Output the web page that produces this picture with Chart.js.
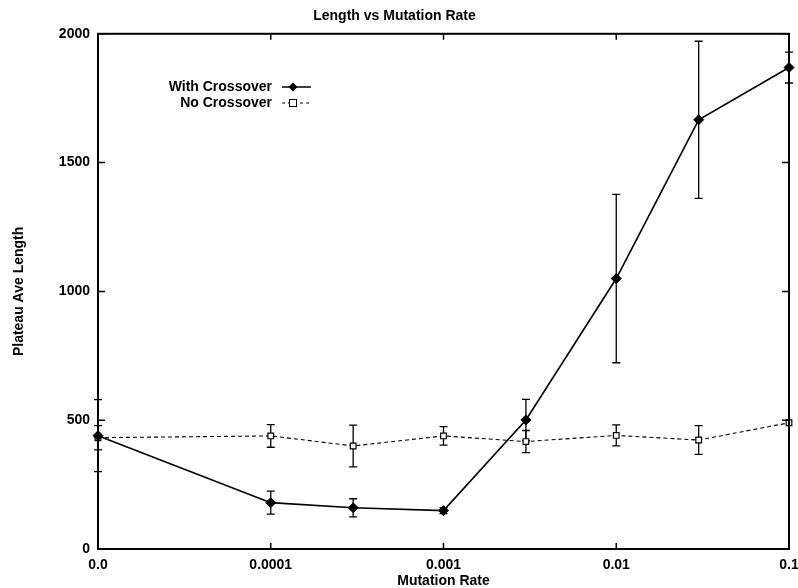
<!DOCTYPE html>
<html>
<head>
<meta charset="utf-8">
<script src="https://cdn.jsdelivr.net/npm/chart.js@4"></script>
<style>
  html, body { margin: 0; padding: 0; background: #fff; }
  #wrap { width: 798px; height: 588px; }
</style>
</head>
<body>
<div id="wrap"><canvas id="chart" width="798" height="588"></canvas></div>
<script>
// mutation rates (0.0 sits at the left end of the log axis)
const rates = [0, 0.0001, 0.0003, 0.001, 0.003, 0.01, 0.03, 0.1];
const withCross = [440, 180, 160, 149, 501, 1050, 1666, 1869];
const withCrossErr = [140, 45, 35, 12, 80, 327, 305, 60];
const noCross = [432, 439, 400, 439, 417, 441, 423, 490];
const noCrossErr = [47, 44, 81, 36, 43, 41, 56, 0];

const xTickRates = [0, 0.0001, 0.001, 0.01, 0.1];
const xTickLabels = ['0.0', '0.0001', '0.001', '0.01', '0.1'];
const yTicks = [0, 500, 1000, 1500, 2000];

const X_MIN = -5, X_MAX = -1;
const toX = r => r > 0 ? Math.log10(r) : X_MIN;

const FONT = 'Liberation Sans, Arial, Helvetica, sans-serif';
const textFont = { family: FONT, size: 14, weight: 'bold' };

const errors = [withCrossErr, noCrossErr];

const errorBars = {
  id: 'errorBars',
  beforeDatasetsDraw(chart) {
    const ctx = chart.ctx;
    const y = chart.scales.y;
    ctx.save();
    ctx.strokeStyle = '#000';
    ctx.lineWidth = 1.3;
    chart.data.datasets.forEach((ds, i) => {
      const meta = chart.getDatasetMeta(i);
      const errs = errors[i];
      meta.data.forEach((pt, j) => {
        const e = errs[j];
        if (!e) return;
        const v = ds.data[j].y;
        const top = y.getPixelForValue(v + e);
        const bot = y.getPixelForValue(v - e);
        ctx.beginPath();
        ctx.moveTo(pt.x, top); ctx.lineTo(pt.x, bot);
        ctx.moveTo(pt.x - 4, top); ctx.lineTo(pt.x + 4, top);
        ctx.moveTo(pt.x - 4, bot); ctx.lineTo(pt.x + 4, bot);
        ctx.stroke();
      });
    });
    ctx.restore();
  }
};

const frame = {
  id: 'frame',
  afterDatasetsDraw(chart) {
    const ctx = chart.ctx;
    const a = chart.chartArea;
    const xs = chart.scales.x, ys = chart.scales.y;
    ctx.save();
    ctx.strokeStyle = '#000';
    ctx.lineWidth = 2;
    ctx.strokeRect(a.left, a.top, a.right - a.left, a.bottom - a.top);
    ctx.lineWidth = 1.5;
    ctx.beginPath();
    xTickRates.forEach(r => {
      const px = xs.getPixelForValue(toX(r));
      ctx.moveTo(px, a.bottom); ctx.lineTo(px, a.bottom - 6);
      ctx.moveTo(px, a.top); ctx.lineTo(px, a.top + 6);
    });
    yTicks.forEach(v => {
      const py = ys.getPixelForValue(v);
      ctx.moveTo(a.left, py); ctx.lineTo(a.left + 7, py);
      ctx.moveTo(a.right, py); ctx.lineTo(a.right - 7, py);
    });
    ctx.stroke();

    // legend
    ctx.font = 'bold 14px ' + FONT;
    ctx.fillStyle = '#000';
    ctx.textAlign = 'right';
    ctx.textBaseline = 'middle';
    const lx = 272, ly = [87, 103];
    ctx.fillText('With Crossover', lx, ly[0]);
    ctx.fillText('No Crossover', lx, ly[1]);
    ctx.lineWidth = 1.5;
    ctx.beginPath();
    ctx.moveTo(282, ly[0]); ctx.lineTo(311, ly[0]);
    ctx.stroke();
    ctx.beginPath();
    ctx.moveTo(293, ly[0] - 4.5); ctx.lineTo(297.5, ly[0]);
    ctx.lineTo(293, ly[0] + 4.5); ctx.lineTo(288.5, ly[0]);
    ctx.closePath(); ctx.fill();
    ctx.lineWidth = 1;
    ctx.setLineDash([3, 3]);
    ctx.beginPath();
    ctx.moveTo(282, ly[1]); ctx.lineTo(311, ly[1]);
    ctx.stroke();
    ctx.setLineDash([]);
    ctx.fillStyle = '#fff';
    ctx.fillRect(289.5, ly[1] - 3.5, 7, 7);
    ctx.strokeRect(289.5, ly[1] - 3.5, 7, 7);
    ctx.restore();
  }
};

new Chart(document.getElementById('chart'), {
  type: 'line',
  data: {
    datasets: [
      {
        label: 'With Crossover',
        data: rates.map((r, i) => ({ x: toX(r), y: withCross[i] })),
        borderColor: '#000',
        backgroundColor: '#000',
        borderWidth: 1.6,
        pointStyle: 'rectRot',
        pointRadius: 5,
        pointBorderWidth: 1,
        clip: false
      },
      {
        label: 'No Crossover',
        data: rates.map((r, i) => ({ x: toX(r), y: noCross[i] })),
        borderColor: '#000',
        backgroundColor: '#fff',
        borderWidth: 1.1,
        borderDash: [4, 3],
        pointStyle: 'rect',
        pointRadius: 4,
        pointBorderWidth: 1.2,
        clip: false
      }
    ]
  },
  options: {
    responsive: false,
    animation: false,
    layout: { padding: { left: 0, right: 9, top: 0, bottom: 0 } },
    plugins: {
      legend: { display: false },
      tooltip: { enabled: false },
      title: {
        display: true,
        text: 'Length vs Mutation Rate',
        color: '#000',
        font: textFont,
        padding: { top: 8, bottom: 9 }
      }
    },
    scales: {
      x: {
        type: 'linear',
        min: X_MIN,
        max: X_MAX,
        afterBuildTicks(scale) {
          scale.ticks = xTickRates.map(r => ({ value: toX(r) }));
        },
        ticks: {
          color: '#000',
          font: textFont,
          padding: 8,
          maxRotation: 0,
          callback: (v) => xTickLabels[xTickRates.findIndex(r => toX(r) === v)]
        },
        grid: { display: false, drawTicks: false },
        border: { display: false },
        title: {
          display: true,
          text: 'Mutation Rate',
          color: '#000',
          font: textFont,
          padding: { top: 0, bottom: -2 }
        },
        afterFit(scale) {
          scale.height = 39;
          scale.paddingRight = 0;
        }
      },
      y: {
        min: 0,
        max: 2000,
        afterBuildTicks(scale) {
          scale.ticks = yTicks.map(v => ({ value: v }));
        },
        ticks: {
          color: '#000',
          font: textFont,
          padding: 8,
          callback: (v) => String(v)
        },
        grid: { display: false, drawTicks: false },
        border: { display: false },
        title: {
          display: true,
          text: 'Plateau Ave Length',
          color: '#000',
          font: textFont,
          padding: { top: 11, bottom: 0 }
        },
        afterFit(scale) { scale.width = 98; }
      }
    }
  },
  plugins: [errorBars, frame]
});
</script>
</body>
</html>
